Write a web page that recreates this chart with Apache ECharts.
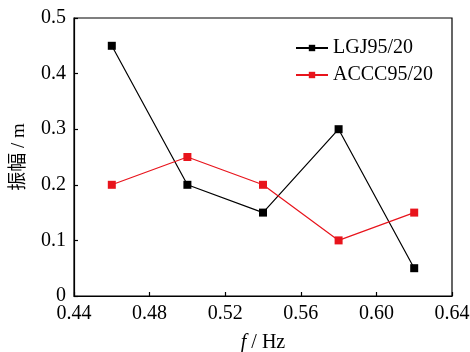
<!DOCTYPE html>
<html><head><meta charset="utf-8">
<script src="https://cdn.jsdelivr.net/npm/echarts@6/dist/echarts.min.js"></script>
<style>html,body{margin:0;padding:0;background:#fff}#c{width:470px;height:352px}</style>
</head><body><div id="c"></div>
<script>
const freqs = [0.46, 0.50, 0.54, 0.58, 0.62];
const lgj = [0.45, 0.20, 0.15, 0.30, 0.05];
const accc = [0.20, 0.25, 0.20, 0.10, 0.15];
const seriesNames = ['LGJ95/20', 'ACCC95/20'];
const xTicks = ['0.44','0.48','0.52','0.56','0.60','0.64'];
const yTicks = ['0','0.1','0.2','0.3','0.4','0.5'];
const font = '"Liberation Serif", "Noto Sans CJK SC", serif';
const fs = 20;
const chart = echarts.init(document.getElementById('c'));
const axisCommon = {
  axisLine: {show: true, onZero: false, lineStyle: {color: '#000', width: 1.2}},
  axisTick: {show: true, inside: true, length: 4, lineStyle: {color: '#000', width: 1.2}},
  splitLine: {show: false},
  axisLabel: {color: '#000', fontFamily: font, fontSize: fs}
};
chart.setOption({
  animation: false,
  grid: {left: 74, right: 18, top: 18, bottom: 56, show: true, borderColor: '#000', borderWidth: 1.2,
         containLabel: false, outerBoundsMode: 'none'},
  legend: {
    top: 33, left: 290, orient: 'vertical', itemGap: 7, itemWidth: 32, itemHeight: 8,
    textStyle: {fontFamily: font, fontSize: fs, color: '#000'},
    data: seriesNames
  },
  xAxis: Object.assign({}, axisCommon, {
    type: 'value', min: 0.44, max: 0.64, interval: 0.04,
    axisLabel: Object.assign({}, axisCommon.axisLabel, {margin: 8, formatter: (v) => {
      const i = Math.round((v - 0.44) / 0.04); return xTicks[i] ?? '';
    }}),
    name: '{i|f} / Hz', nameLocation: 'middle', nameGap: 37,
    nameTextStyle: {fontFamily: font, fontSize: fs, color: '#000',
      rich: {i: {fontStyle: 'italic', fontFamily: font, fontSize: fs, color: '#000'}}}
  }),
  yAxis: Object.assign({}, axisCommon, {
    type: 'value', min: 0, max: 0.5, interval: 0.1,
    axisLabel: Object.assign({}, axisCommon.axisLabel, {margin: 8, formatter: (v) => {
      const i = Math.round(v / 0.1); return yTicks[i] ?? '';
    }}),
    name: '振幅 / m', nameLocation: 'middle', nameGap: 45, nameRotate: 90,
    nameTextStyle: {fontFamily: font, fontSize: 19, color: '#000'}
  }),
  series: [
    {name: seriesNames[0], type: 'line', data: freqs.map((f, i) => [f, lgj[i]]),
     symbol: 'rect', symbolSize: 8, itemStyle: {color: '#000'}, lineStyle: {color: '#000', width: 1.2}},
    {name: seriesNames[1], type: 'line', data: freqs.map((f, i) => [f, accc[i]]),
     symbol: 'rect', symbolSize: 8, itemStyle: {color: '#e8141c'}, lineStyle: {color: '#e8141c', width: 1.2}}
  ]
});
</script></body></html>
